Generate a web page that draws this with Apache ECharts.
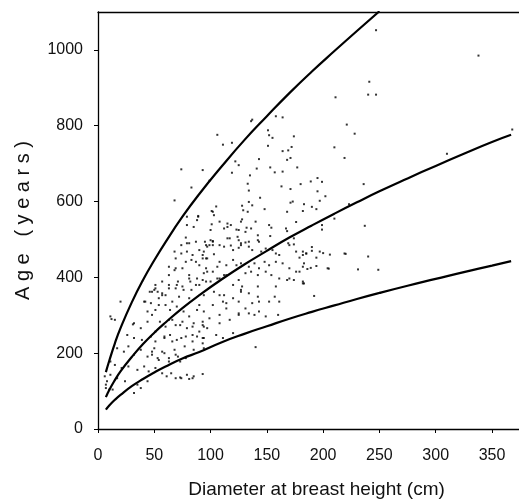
<!DOCTYPE html>
<html>
<head>
<meta charset="utf-8">
<script src="https://cdn.jsdelivr.net/npm/echarts@6/dist/echarts.min.js"></script>
<style>
  html, body { margin: 0; padding: 0; background: #fff; }
  #main { width: 519px; height: 504px; }
</style>
</head>
<body>
<div id="main"></div>
<script>
// tick labels
const xTicks = [0, 50, 100, 150, 200, 250, 300, 350];
const yTicks = [0, 200, 400, 600, 800, 1000];

// fitted curves (diameter cm -> age years)
const curveX = [7, 10, 15, 20, 30, 40, 50, 60, 75, 90, 110, 130, 150, 170, 190, 210, 230, 250, 275, 300, 325, 350, 367];
const upperY = [150, 180, 226, 266, 334, 393, 445, 493, 560, 620, 693, 762, 825, 886, 943, 997, 1050, 1102, null, null, null, null, null];
const middleY = [84, 103, 129, 152, 190, 224, 254, 281, 319, 353, 395, 434, 470, 505, 537, 568, 598, 627, 661, 694, 726, 757, 776];
const lowerY = [51, 62, 77, 90, 113, 132, 149, 165, 186, 203, 229, 251, 271, 291, 309, 326, 343, 359, 378, 396, 414, 431, 443];

// individual trees [dbh, age]
const trees = [
  [247,1052],[338,985],[241,916],[240,882],[247,882],[211,875],[221,803],[228,779],[210,743],[219,715],
  [368,790],[310,726],[236,646],[223,593],[210,555],[237,536],[199,538],[199,526],[240,455],[249,420],
  [231,421],[220,462],[206,460],[205,423],[189,653],[195,662],[199,652],[195,627],[202,614],[197,602],
  [183,593],[190,586],[194,580],[182,575],[180,646],[190,480],[182,468],[185,463],[190,470],[197,468],
  [200,464],[194,452],[179,452],[183,437],[189,425],[186,422],[194,430],[182,384],[192,351],
  [106,776],[119,755],[111,750],[136,812],[137,816],[158,825],[164,822],[151,788],[152,775],[155,768],
  [174,772],[151,747],[172,744],[169,735],[164,733],[143,712],[168,710],[171,715],[122,706],[125,696],
  [93,683],[119,676],[135,669],[141,687],[153,690],[157,677],[164,679],[177,690],[99,655],[133,647],
  [134,629],[163,640],[171,633],[144,610],[134,599],[128,589],[129,577],[137,590],[171,597],[173,600],
  [105,587],[101,575],[148,580],[168,573],[176,546],[152,538],[154,531],[167,529],[168,522],[132,531],
  [128,553],[123,526],[115,542],[118,538],[112,529],[101,540],[153,509],[142,511],[115,503],[125,498],
  [102,496],[174,503],[169,490],
  [95,494],[99,485],[102,494],[108,485],[112,481],[118,484],[120,472],[125,478],[127,485],[131,492],
  [134,481],[137,472],[143,494],[145,468],[149,476],[155,472],[158,463],[161,459],[170,485],[174,487],
  [176,468],[182,459],[185,463],[93,459],[97,450],[103,461],[108,441],[114,432],[120,446],[123,432],
  [127,437],[134,428],[139,437],[143,424],[148,441],[152,432],[158,441],[164,437],[170,424],[179,415],
  [182,428],[96,424],[102,415],[106,428],[93,393],[100,389],[108,397],[112,406],[120,380],[125,393],
  [131,411],[136,415],[142,406],[149,415],[154,406],[161,397],[170,397],[174,393],[94,353],[103,362],
  [112,353],[127,367],[134,358],[142,376],[158,376],[168,393],[183,384],
  [83,637],[68,603],[102,573],[103,564],[89,560],[88,551],[108,547],[115,533],[127,547],[133,573],
  [140,547],[79,538],[100,525],[125,525],[131,520],[136,529],[79,490],[100,498],[102,485],[117,503],
  [124,507],[127,490],[134,494],[142,498],[90,472],[94,468],[97,481],[69,450],[74,463],[79,468],
  [83,446],[87,441],[93,450],[63,428],[68,419],[75,424],[81,406],[88,397],[94,411],[57,389],
  [63,380],[69,371],[75,376],[83,367],[90,380],[51,371],[57,353],[106,397],[114,406],
  [20,336],[11,297],[15,288],[41,336],[47,332],[53,362],[57,358],[63,371],[70,380],[76,367],
  [82,389],[44,310],[48,301],[51,314],[60,327],[64,314],[70,323],[76,310],[81,297],[88,314],
  [32,279],[38,266],[44,283],[55,283],[60,270],[66,288],[73,274],[79,266],[85,279],[90,257],
  [94,270],[26,248],[32,240],[39,235],[47,244],[51,231],[59,240],[64,248],[70,235],[78,244],
  [84,231],[88,244],[93,226],[17,213],[23,204],[27,218],[32,196],[38,209],[44,191],[48,204],
  [53,187],[59,200],[63,187],[69,196],[73,178],[11,178],[15,169],[21,161],[27,165],[35,156],
  [41,165],[45,152],[51,161],[57,147],[61,139],[69,134],[79,143],[85,139],[11,143],[8,126],
  [17,134],[24,126],[35,117],[44,126],[38,108],[7,108],[13,104],[12,290],[7,117],[6,139],
  [32,95],[10,104],[73,136],[81,132],[93,145],[140,216],
  [48,362],[54,345],[60,353],[66,336],[72,349],[81,345],[90,327],[94,310],[102,327],[108,353],
  [114,332],[120,345],[125,336],[131,318],[137,332],[142,349],[63,288],[69,274],[75,283],[84,270],
  [93,283],[99,292],[108,279],[117,288],[125,301],[134,305],[51,257],[59,244],[66,231],[74,240],
  [84,248],[93,240],[105,248],[111,240],[120,253],[50,213],[57,204],[68,209],[77,218],[85,209],
  [94,213],[48,196],[54,182],[63,178],[71,191],[78,187],[65,147],[74,134],[84,134],
  [31,276],[46,362],[74,685],[79,560],[89,562],[85,533],[78,505],[74,485],[81,490],[87,494],
  [96,485],[68,468],[50,367],[42,336],[69,424],[78,441],[84,459],[90,432],[96,450],[97,415],
  [63,406],[71,389],[81,397],[87,380],[96,389],[51,380],[54,327],
  [160,301],[152,336],[143,336],[157,349],[143,310],[139,301],[125,305],[128,376],[127,362],[108,301],
  [114,318],[111,336],[97,266],[94,240],[93,274],[149,297],[161,336],[176,415],[182,389],[204,424],
  [219,463]
];

const font = "Liberation Sans, Arial, sans-serif";
const chart = echarts.init(document.getElementById("main"));

function curve(ys) {
  return curveX.map((x, i) => [x, ys[i]]);
}

const lineSeries = [upperY, middleY, lowerY].map(ys => ({
  type: "line",
  data: curve(ys),
  smooth: true,
  showSymbol: false,
  connectNulls: false,
  lineStyle: { color: "#000", width: 2.2 },
  z: 3
}));

chart.setOption({
  animation: false,
  grid: { left: 98, right: 0, top: 12, bottom: 73 },
  xAxis: [{
    type: "value",
    min: 0,
    max: 374,
    interval: 50,
    name: "Diameter at breast height (cm)",
    nameLocation: "middle",
    nameGap: 51,
    nameTextStyle: { color: "#111", fontSize: 19, fontFamily: font, padding: [0, 0, 0, 16] },
    axisLine: { lineStyle: { color: "#000", width: 1.3 } },
    axisTick: { show: true, length: 4, lineStyle: { color: "#000" } },
    axisLabel: { color: "#111", fontSize: 16, fontFamily: font, margin: 19, showMaxLabel: false },
    splitLine: { show: false }
  }, {
    type: "value",
    position: "top",
    min: 0,
    max: 374,
    axisLine: { show: true, onZero: false, lineStyle: { color: "#000", width: 1.3 } },
    axisTick: { show: false },
    axisLabel: { show: false },
    splitLine: { show: false }
  }],
  yAxis: {
    type: "value",
    min: 0,
    max: 1100,
    interval: 200,
    name: "A g e   ( y e a r s )",
    nameLocation: "middle",
    nameGap: 65,
    nameTextStyle: { color: "#111", fontSize: 20, fontFamily: font },
    axisLine: { show: true, lineStyle: { color: "#000", width: 1.3 } },
    axisTick: { show: true, length: 4, lineStyle: { color: "#000" } },
    axisLabel: {
      color: "#111", fontSize: 16, fontFamily: font, margin: 15, showMaxLabel: false,
      formatter: v => String(v)
    },
    splitLine: { show: false }
  },
  series: [{
    type: "scatter",
    data: trees,
    symbol: "rect",
    symbolSize: 2,
    itemStyle: { color: "#000" },
    z: 2
  }].concat(lineSeries)
});
</script>
</body>
</html>
